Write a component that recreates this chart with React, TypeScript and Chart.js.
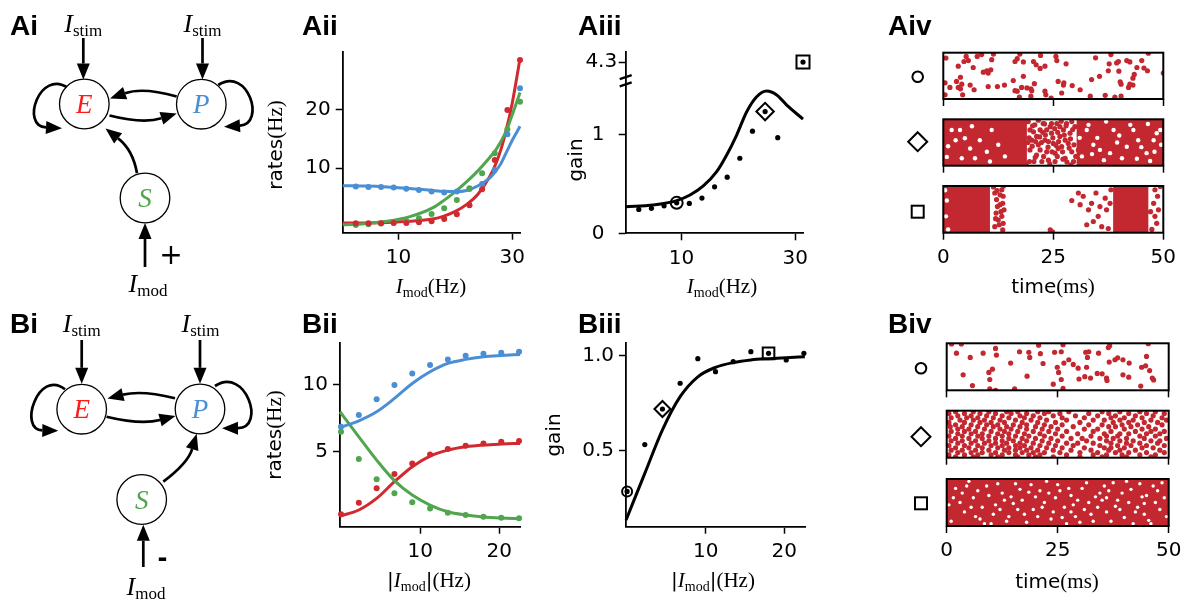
import React, { useEffect, useRef } from 'react';
import { Chart, registerables } from 'chart.js';
Chart.register(...registerables);

// ---------------- colours / fonts ----------------
const RED = '#d1292f';
const BLUE = '#4a8fd3';
const GREEN = '#4fa64e';
const RASTER = '#c3272f';
const SANS = '"DejaVu Sans"';
const SERIF = '"Liberation Serif", "DejaVu Serif", serif';
const BOLD = '"Liberation Sans", Arial, sans-serif';
const TICK_FONT = 20;

// ---------------- data: row A (positive modulation) ----------------
const IMOD_A = [2.5, 4.72, 6.94, 9.16, 11.38, 13.6, 15.82, 18.04, 20.26, 22.48, 24.7, 26.92, 29.14, 31.36];
const RATE_E_A = [0.57, 0.57, 0.57, 0.63, 0.63, 0.74, 0.91, 1.31, 2.11, 3.66, 6.4, 11.43, 20.0, 28.57];
const RATE_P_A = [6.86, 6.8, 6.8, 6.69, 6.51, 6.29, 6.0, 5.83, 6.0, 6.46, 7.31, 9.71, 15.83, 23.71];
const RATE_S_A = [0.29, 0.4, 0.51, 0.69, 0.97, 1.43, 2.17, 3.14, 4.57, 6.57, 9.14, 12.57, 16.69, 21.43];
const IMOD_A_FIT = [0.2, 4, 8, 12, 16, 18, 20, 22, 24, 26, 27, 28, 29, 30, 31.36];
const FIT_E_A = [0.6, 0.62, 0.7, 0.9, 1.3, 1.8, 2.6, 3.8, 5.6, 8.5, 10.5, 13.2, 16.8, 21.2, 28.8];
const FIT_P_A = [7.0, 6.95, 6.8, 6.55, 6.2, 6.05, 6.0, 6.2, 7.0, 8.3, 9.4, 10.8, 12.8, 14.8, 17.2];
const FIT_S_A = [0.3, 0.5, 0.9, 1.7, 3.2, 4.5, 6.0, 7.7, 9.6, 11.8, 13.0, 14.6, 16.5, 19.2, 23.0];

const GAIN_A = [0.242, 0.253, 0.279, 0.309, 0.303, 0.357, 0.471, 0.569, 0.761, 1.036, 1.235, 0.97, null, 4.3];
const IMOD_A_GFIT = [0.2, 5.05, 9.16, 11.5, 13.84, 16.19, 17.95, 19.7, 21.47, 23.22, 24.98, 26.74, 28.5, 31.36];
const GFIT_A = [0.27, 0.287, 0.331, 0.388, 0.48, 0.625, 0.794, 0.997, 1.233, 1.385, 1.443, 1.403, 1.3, 1.159];
const MARK_A = { circle: 3, diamond: 10, square: 13 };
const GAIN_A_TICKS = [0, 1, 4.3];
const BREAK_AT = 1.737; // axis position used for the value 4.3 above the break
const BREAK_MARKS = [1.51, 1.585];

// ---------------- data: row B (negative modulation) ----------------
const IMOD_B = [0, 2.25, 4.5, 6.75, 9, 11.25, 13.5, 15.75, 18, 20.25, 22.5];
const RATE_E_B = [0.35, 1.21, 2.28, 3.34, 4.13, 4.8, 5.2, 5.45, 5.62, 5.74, 5.79];
const RATE_P_B = [6.85, 7.72, 8.89, 9.95, 10.82, 11.44, 11.86, 12.13, 12.28, 12.35, 12.43];
const RATE_S_B = [6.49, 4.46, 2.95, 1.91, 1.24, 0.79, 0.47, 0.3, 0.17, 0.1, 0.05];
const IMOD_B_FIT = [-0.13, 2.25, 4.5, 6.75, 9, 11.25, 13.5, 15.75, 18, 20.25, 22.62];
const FIT_E_B = [0.22, 0.67, 1.53, 2.77, 3.89, 4.68, 5.12, 5.37, 5.5, 5.57, 5.62];
const FIT_P_B = [6.8, 7.3, 7.97, 8.96, 10.07, 10.94, 11.56, 11.86, 12.05, 12.15, 12.23];
const FIT_S_B = [7.97, 6.11, 4.38, 2.85, 1.78, 1.04, 0.54, 0.3, 0.15, 0.07, 0.02];

const GAIN_B = [0.285, 0.532, 0.72, 0.856, 0.986, 0.917, 0.97, 1.023, 1.014, 0.979, 1.014];
const GFIT_B = [0.134, 0.38, 0.61, 0.785, 0.89, 0.94, 0.965, 0.979, 0.986, 0.991, 0.996];
const MARK_B = { circle: 0, diamond: 2, square: 8 };

// ---------------- raster data: [time ms, neuron %] pairs ----------------
const AIV_CIRCLE = [
  0.6, 88.6, 5.2, 92, 4.7, 81, 5.7, 83, 7.7, 92, 8.7, 96, 11.4, 97, 11.0, 85, 17.4, 97, 16.8, 87, 16.3, 81, 18.2, 80,
  22.1, 94, 20.5, 81, 21.1, 74, 22.0, 66, 23.1, 71, 25.6, 92, 25.8, 83, 27.9, 76, 34.6, 89, 38.1, 96, 39.4, 78, 37.7, 76,
  39.8, 81, 41.7, 83, 42.4, 80, 45.1, 83, 46.6, 99, 44.0, 68, 45.6, 67, 46.4, 61, 3.4, 71, 6.8, 68, 9.1, 58, 10.2, 56,
  10.8, 63, 9.9, 61, 18.2, 49, 43.4, 53, 43.1, 45, 37.5, 61, 39.9, 60, 0.4, 35, 3.0, 38, 3.9, 47, 4.2, 32, 3.4, 25,
  3.9, 22, 6.1, 30, 7.0, 20, 10.2, 27, 12.3, 27, 13.9, 30, 15.9, 40, 16.3, 18, 16.8, 17, 17.8, 25, 19.0, 24, 19.9, 22,
  20.7, 33, 20.1, 18, 26.1, 38, 27.4, 35, 27.3, 30, 29.3, 29, 31.1, 20, 33.7, 42, 35.5, 49, 40.2, 37, 40.4, 32, 42.4, 32,
  43.1, 30, 42.1, 25, 50, 56, 0.4, 9, 4.4, 9, 17.3, 4, 19.9, 6, 23.1, 17, 23.3, 9, 26.9, 13, 33.4, 6, 36.8, 8, 39.0, 4,
  40.4, 6, 24.5, 2, 1.5, 25,
];
const AIV_DIAMOND = [
  19.3, 95, 19.7, 77, 20.1, 55, 19.7, 34, 19.6, 9, 20.8, 88, 21.2, 63, 21.6, 45, 21.2, 23, 22.0, 77, 22.7, 91, 23.1, 55,
  23.5, 30, 23.9, 12, 24.3, 84, 24.6, 70, 25.0, 48, 25.4, 27, 25.8, 91, 26.5, 63, 26.9, 41, 27.3, 77, 27.7, 16, 28.0, 91,
  28.4, 48, 28.8, 70, 29.2, 30, 29.6, 9, 29.9, 84, 30.7, 34, 22.4, 9, 20.5, 73, 25.4, 9, 26.5, 84, 23.5, 77, 24.6, 91,
  27.7, 55, 29.2, 95, 22.0, 34, 20.6, 9, 26.1, 37, 23.9, 52,
  19.5, 60, 20.2, 42, 20.9, 18, 21.6, 98, 22.3, 50, 22.8, 20, 23.2, 66, 23.8, 40, 24.2, 4, 24.9, 60, 25.3, 80, 25.9, 20,
  26.2, 52, 26.8, 96, 27.1, 30, 27.5, 66, 28.1, 8, 28.6, 38, 28.9, 58, 29.4, 78, 29.7, 45, 30.1, 20, 18.8, 3, 19.2, 50,
  21.9, 62, 23.0, 90, 24.7, 30, 26.0, 72, 27.9, 86, 29.0, 2, 20.3, 86, 21.0, 52, 22.6, 72, 25.6, 44, 27.2, 14,
];
const AIV_DIAMOND_BLOCKS = [[0, 19, 0, 100], [30.3, 50, 0, 100]];
const AIV_DIAMOND_GAPS = [
  1.1, 42, 0.8, 19, 1.9, 77, 3.8, 77, 4.9, 59, 6.1, 37, 7.2, 16, 8.3, 55, 9.9, 30, 10.6, 9, 4.2, 16, 11.0, 77,
  32.6, 77, 34.1, 45, 35.6, 34, 38.7, 77, 40.6, 16, 43.2, 77, 44.3, 55, 46.2, 27, 47.8, 55, 49.3, 77, 37.9, 27, 41.7, 41,
  31.5, 20, 33.0, 88, 35.0, 60, 36.5, 12, 39.5, 50, 42.5, 88, 45.0, 40, 47.0, 10, 48.5, 70, 37.0, 95, 44.0, 15, 49.5, 45,
  2.8, 55, 6.5, 85, 12.5, 45, 14.0, 20, 31.0, 60, 33.8, 25, 40.0, 65, 46.5, 90, 48.0, 30,
];
const AIV_SQUARE = [
  11.4, 98, 11.7, 85, 12.1, 71, 12.3, 56, 12.0, 42, 12.5, 27, 11.7, 13, 13.3, 92, 13.6, 78, 13.5, 63, 13.8, 49, 13.3, 35,
  13.6, 20, 13.5, 6, 12.9, 81, 12.7, 17, 24.3, 6, 24.8, 2, 29.2, 69, 30.7, 85, 31.1, 60, 31.8, 78, 33.0, 49, 33.7, 63,
  34.7, 85, 35.2, 35, 36.0, 13, 36.8, 74, 37.1, 49, 37.9, 63, 38.1, 92, 35.6, 56, 34.1, 24, 37.5, 9, 32.6, 17,
  48.1, 92, 48.7, 78, 47.8, 63, 48.9, 49, 48.1, 35, 48.5, 20, 47.4, 7, 49.3, 99, 47.1, 45,
  12.9, 60, 13.1, 45, 11.9, 30, 12.2, 90, 13.7, 100,
];
const AIV_SQUARE_BLOCKS = [[0, 10.6, 0, 100], [38.6, 46.6, 0, 100]];
const AIV_SQUARE_GAPS = [0.4, 91, 0.8, 69, 0.6, 35, 1.1, 7];

const BIV_CIRCLE = [
  1.1, 98.6, 3.3, 98.6, 2.2, 79, 5.3, 70, 8.2, 79, 11.0, 89, 11.2, 75, 14.4, 58, 16.4, 82, 18.5, 81, 18.7, 70, 20.7, 96,
  21.1, 78, 21.7, 57, 24.3, 81, 25.8, 82, 26.2, 97, 27.5, 65, 26.4, 58, 28.5, 55, 24.9, 49, 25.2, 38, 29.6, 47, 31.5, 49,
  31.3, 81, 32.0, 82, 31.7, 70, 34.2, 79, 36.4, 91, 36.7, 95, 36.6, 60, 37.9, 65, 38.5, 69, 39.7, 65, 41.1, 58, 43.9, 49,
  44.8, 52, 45.0, 72, 45.4, 99, 45.7, 42, 46.3, 26, 46.6, 22, 3.7, 33, 5.8, 10, 9.5, 38, 10.3, 45, 9.7, 23, 9.7, 3,
  11.0, 0, 15.3, 3, 18.1, 30, 24.0, 13, 25.8, 23, 26.2, 4, 29.8, 24, 31.1, 29, 32.4, 26, 33.9, 36, 35.0, 35, 36.0, 26,
  36.1, 21, 39.7, 33, 41.0, 28, 43.7, 9,
];
const BIV_DIAMOND_ROWS: [number, number[]][] = [
  [98, [2, 6, 9.5, 13.5, 16, 20.5, 23, 27.5, 35, 39, 43.5, 47]],
  [94, [0.5, 4, 7.5, 11, 14.5, 18, 22, 25.5, 32, 36.5, 41, 45, 49]],
  [89, [2.5, 5.5, 9, 12.5, 16.5, 19.5, 24, 29, 34, 38, 42.5, 46.5]],
  [85, [1, 4.5, 7, 10.5, 14, 17.5, 21, 26, 31, 37, 40, 44, 48.5]],
  [80, [3, 6, 8.5, 12, 15.5, 19, 22.5, 27, 33, 35.5, 39, 42, 46, 49.5]],
  [75, [0.5, 4, 7.5, 10, 13, 17, 20.5, 24.5, 30, 37.5, 41, 44.5, 47.5]],
  [70, [2, 5.5, 9, 11.5, 15, 18, 22, 26, 32, 35, 39.5, 43, 48.5]],
  [66, [0.8, 3.5, 7, 10.5, 13.5, 16.5, 20, 23.5, 28.5, 36.5, 38, 41.5, 45.5]],
  [61, [2.5, 5, 8.5, 12, 14.5, 18, 21.5, 25, 31, 34, 40, 44, 47]],
  [56, [1, 4, 6.5, 10, 13, 16, 19.5, 23, 27, 33, 37, 42.5, 46, 49]],
  [51, [2.5, 5.5, 8, 11.5, 14, 17.5, 21, 24.5, 29.5, 35.5, 39, 41, 45, 48]],
  [46, [0.5, 3.5, 7, 9.5, 12.5, 15.5, 18.5, 22, 26, 32.5, 36, 38.5, 43.5, 47]],
  [41, [2, 5, 8, 11, 14, 17, 20, 23.5, 28, 30.5, 34.5, 37.5, 40.5, 44.5, 49.5]],
  [36, [1, 3.5, 6.5, 9.5, 12.5, 15, 18, 21.5, 25, 31.5, 36, 39, 42, 46, 48]],
  [31, [2.5, 5.5, 8.5, 11, 13.5, 16.5, 19.5, 23, 27, 29.5, 33, 37, 40.5, 43.5, 47.5]],
  [26, [0.5, 4, 7, 10, 12.5, 15.5, 17.5, 21, 24.5, 28.5, 34.5, 38.5, 41.5, 45, 49]],
  [21, [2, 5, 8, 11.5, 14, 16.5, 19, 22.5, 26, 31, 35.5, 37, 40, 44, 46.5]],
  [16, [1, 3.5, 6.5, 9.5, 13, 15.5, 18, 20.5, 24, 28, 32.5, 36.5, 39, 42.5, 48]],
  [11, [2.5, 5.5, 8, 11, 14, 17, 19.5, 22, 25.5, 30, 34, 38, 41, 45, 49]],
  [6, [0.5, 4, 7, 10, 12.5, 15.5, 18.5, 21, 27, 33, 36, 39.5, 43.5, 47]],
  [2, [2, 6, 11.5, 16, 20, 24, 30, 35, 40.5, 46]],
];
const BIV_SQUARE_BLOCKS = [[0, 50, 0, 100]];
const BIV_SQUARE_GAPS = [
  2, 80, 4, 30, 6, 60, 7.5, 15, 9, 85, 11, 45, 12.5, 70, 14, 20, 15.5, 90, 17, 55, 18, 8, 19.5, 35, 21, 75, 22, 50,
  23.5, 15, 25, 88, 26.5, 40, 28, 65, 29, 20, 30.5, 80, 32, 50, 33, 10, 34.5, 70, 36, 30, 37.5, 92, 38.5, 55, 40, 18,
  41.5, 78, 43, 40, 44, 62, 45.5, 12, 46.5, 85, 48, 35, 49, 60, 1, 10, 3, 50, 5, 95, 8, 40, 10, 5, 13, 55, 16, 35,
  20, 62, 24, 30, 27, 5, 31, 35, 35, 55, 39, 35, 42, 5, 47, 50, 3.5, 70, 10.5, 25, 18.5, 72, 28.5, 45, 36.5, 75, 44.5, 25,
  1.5, 60, 4.5, 85, 6.5, 20, 9.5, 65, 11.5, 90, 13.5, 10, 15, 48, 16.5, 78, 19, 88, 20.5, 20, 22.5, 95, 24.5, 60,
  26, 18, 27.5, 80, 29.5, 55, 31.5, 92, 32.5, 25, 34, 40, 35.5, 85, 37, 10, 39.5, 70, 41, 50, 42.5, 30, 43.5, 90,
  45, 65, 46, 5, 47.5, 75, 49.5, 20, 0.5, 45, 5.5, 40, 8.5, 5, 12, 35, 17.5, 25, 21.5, 40, 25.5, 75, 30, 8, 33.5, 62,
  38, 42, 40.5, 95, 44.5, 48, 48.5, 92, 7, 75, 14.5, 62, 23, 70, 28, 30, 36, 60,
];
const RASTER_TICKS = [0, 25, 50];

// ---------------- helpers ----------------
const pairs = (xs: number[], ys: (number | null)[]) => xs.map((x, i) => ({ x, y: ys[i] }));
const flat = (a: number[]) => { const o: any[] = []; for (let i = 0; i < a.length; i += 2) o.push({ x: a[i], y: a[i + 1] }); return o; };
const rows = (r: [number, number[]][]) => r.flatMap(([y, ts]) => ts.map((t) => ({ x: t, y })));
const gdisp = (v: number | null) => (v == null ? null : v > 2 ? BREAK_AT + (v - 4.3) * 0.05 : v);

const lineDs = (xs: number[], ys: number[], color: string) => ({
  data: pairs(xs, ys), showLine: true, borderColor: color, borderWidth: 3, pointRadius: 0,
  cubicInterpolationMode: 'monotone', clip: false, order: 2,
});
const dotDs = (xs: number[], ys: any[], color: string, r = 3) => ({
  data: pairs(xs, ys), showLine: false, pointRadius: r, backgroundColor: color, borderWidth: 0, clip: false, order: 1,
});
const markDs = (pt: any, style: string, r: number) => ({
  data: [pt], pointStyle: style, pointRadius: r, backgroundColor: 'rgba(0,0,0,0)', borderColor: '#000',
  borderWidth: 2, clip: false, order: 0,
});

function xAxis(min: number, max: number, ticks: number[], xH: number, labels = true, border = true) {
  return {
    type: 'linear', min, max, bounds: 'data',
    afterBuildTicks: (s: any) => { s.ticks = ticks.map((v) => ({ value: v })); },
    afterFit: (s: any) => { s.height = xH; s.paddingLeft = 0; s.paddingRight = 0; },
    border: { display: border, color: '#000', width: 1.8 },
    grid: { drawOnChartArea: false, drawTicks: true, tickLength: 7, tickWidth: 1.5, tickColor: '#000' },
    ticks: { display: labels, color: '#000', font: { family: SANS, size: TICK_FONT }, padding: 6, maxRotation: 0, autoSkip: false,
      callback: (v: number) => String(v) },
  };
}
function yAxis(min: number, max: number, ticks: number[], yW: number, fmt?: (v: number) => string, pad = 5) {
  return {
    type: 'linear', min, max, bounds: 'data',
    afterBuildTicks: (s: any) => { s.ticks = ticks.map((v) => ({ value: v })); },
    afterFit: (s: any) => { s.width = yW; s.paddingTop = 0; s.paddingBottom = 0; },
    border: { display: true, color: '#000', width: 1.8 },
    grid: { drawOnChartArea: false, drawTicks: true, tickLength: 7, tickWidth: 1.5, tickColor: '#000' },
    ticks: { color: '#000', font: { family: SANS, size: TICK_FONT }, padding: pad, autoSkip: false,
      callback: (v: number) => (fmt ? fmt(v) : String(v)) },
  };
}

type Area = { l: number; t: number; r: number; b: number };
const PAD_L = 24, PAD_T = 16, PAD_R = 28, PAD_B = 4;

function ChartCanvas({ area, yW, xH, make }: { area: Area; yW: number; xH: number; make: () => any }) {
  const ref = useRef<HTMLCanvasElement | null>(null);
  const left = Math.floor(area.l - yW - PAD_L);
  const top = Math.floor(area.t - PAD_T);
  const right = Math.ceil(area.r + PAD_R);
  const bottom = Math.ceil(area.b + xH + PAD_B);
  const w = right - left;
  const h = bottom - top;
  useEffect(() => {
    const cfg = make();
    cfg.options = cfg.options || {};
    cfg.options.responsive = false;
    cfg.options.maintainAspectRatio = false;
    cfg.options.animation = false;
    cfg.options.devicePixelRatio = 1;
    cfg.options.events = [];
    cfg.options.layout = {
      autoPadding: false,
      padding: { left: area.l - yW - left, top: area.t - top, right: right - area.r, bottom: bottom - area.b - xH },
    };
    cfg.options.plugins = { legend: { display: false }, tooltip: { enabled: false }, title: { display: false } };
    const chart = new Chart(ref.current as HTMLCanvasElement, cfg);
    return () => chart.destroy();
  }, []);
  return <canvas ref={ref} width={w} height={h} style={{ position: 'absolute', left, top, width: w, height: h }} />;
}

// ---------------- chart configurations ----------------
const makeRatesA = () => ({
  type: 'scatter',
  data: { datasets: [
    dotDs(IMOD_A, RATE_E_A, RED), dotDs(IMOD_A, RATE_S_A, GREEN), dotDs(IMOD_A, RATE_P_A, BLUE),
    lineDs(IMOD_A_FIT, FIT_P_A, BLUE), lineDs(IMOD_A_FIT, FIT_S_A, GREEN), lineDs(IMOD_A_FIT, FIT_E_A, RED),
  ] },
  options: { scales: { x: xAxis(0.2, 31.36, [10, 30], 40), y: yAxis(-1.05, 30, [10, 20], 50) } },
});

const makeRatesB = () => ({
  type: 'scatter',
  data: { datasets: [
    dotDs(IMOD_B, RATE_E_B, RED), dotDs(IMOD_B, RATE_S_B, GREEN), dotDs(IMOD_B, RATE_P_B, BLUE),
    lineDs(IMOD_B_FIT, FIT_P_B, BLUE), lineDs(IMOD_B_FIT, FIT_S_B, GREEN), lineDs(IMOD_B_FIT, FIT_E_B, RED),
  ] },
  options: { scales: { x: xAxis(-0.13, 22.62, [10, 20], 40), y: yAxis(-0.57, 13.1, [5, 10], 50) } },
});

const breakPlugin = {
  id: 'axisBreak',
  afterDraw(chart: any) {
    const { ctx, scales, chartArea } = chart;
    ctx.save();
    ctx.strokeStyle = '#000';
    ctx.lineWidth = 2.4;
    for (const v of BREAK_MARKS) {
      const py = scales.y.getPixelForValue(v);
      ctx.beginPath();
      ctx.moveTo(chartArea.left - 6, py + 2);
      ctx.lineTo(chartArea.left + 6, py - 2);
      ctx.stroke();
    }
    ctx.restore();
  },
};

const makeGainA = () => ({
  type: 'scatter',
  data: { datasets: [
    markDs({ x: IMOD_A[MARK_A.circle], y: gdisp(GAIN_A[MARK_A.circle]) }, 'circle', 6),
    markDs({ x: IMOD_A[MARK_A.diamond], y: gdisp(GAIN_A[MARK_A.diamond]) }, 'rectRot', 8.7),
    markDs({ x: IMOD_A[MARK_A.square], y: gdisp(GAIN_A[MARK_A.square]) }, 'rect', 9.2),
    dotDs(IMOD_A, GAIN_A.map(gdisp), '#000', 2.6),
    lineDs(IMOD_A_GFIT, GFIT_A, '#000'),
  ] },
  options: { scales: {
    x: xAxis(0.2, 31.36, [10, 30], 40),
    y: yAxis(0, 1.842, GAIN_A_TICKS.map((v) => gdisp(v) as number), 50,
      (v) => (v === 0 ? '0  ' : v === 1 ? '1  ' : String(GAIN_A_TICKS[2])), 1.5),
  } },
  plugins: [breakPlugin],
});

const makeGainB = () => ({
  type: 'scatter',
  data: { datasets: [
    markDs({ x: IMOD_B[MARK_B.circle], y: GAIN_B[MARK_B.circle] }, 'circle', 5),
    markDs({ x: IMOD_B[MARK_B.diamond], y: GAIN_B[MARK_B.diamond] }, 'rectRot', 8),
    markDs({ x: IMOD_B[MARK_B.square], y: GAIN_B[MARK_B.square] }, 'rect', 8.2),
    dotDs(IMOD_B, GAIN_B, '#000', 2.6),
    lineDs(IMOD_B_FIT, GFIT_B, '#000'),
  ] },
  options: { scales: { x: xAxis(-0.14, 22.64, [10, 20], 40), y: yAxis(0.0985, 1.067, [0.5, 1.0], 50, (v) => v.toFixed(1)) } },
});

const rasterPlugin = (blocks: number[][]) => ({
  id: 'rasterBlocks',
  beforeDatasetsDraw(chart: any) {
    const { ctx, chartArea: a, scales } = chart;
    ctx.save();
    ctx.beginPath();
    ctx.rect(a.left, a.top, a.right - a.left, a.bottom - a.top);
    ctx.clip();
    ctx.fillStyle = RASTER;
    for (const [t0, t1, y0, y1] of blocks) {
      const x0 = scales.x.getPixelForValue(t0);
      const x1 = scales.x.getPixelForValue(t1);
      const yTop = scales.y.getPixelForValue(y1);
      const yBot = scales.y.getPixelForValue(y0);
      ctx.fillRect(x0, yTop, x1 - x0, yBot - yTop);
    }
    ctx.restore();
  },
  afterDatasetsDraw(chart: any) {
    const { ctx, chartArea: a } = chart;
    ctx.save();
    ctx.strokeStyle = '#000';
    ctx.lineWidth = 2;
    ctx.strokeRect(a.left, a.top, a.right - a.left, a.bottom - a.top);
    ctx.restore();
  },
});

const makeRaster = (dots: any[], gaps: any[], blocks: number[][], labels: boolean, xH: number, gapR = 2.2) => () => ({
  type: 'scatter',
  data: { datasets: [
    { data: dots, pointRadius: 2.6, backgroundColor: RASTER, borderWidth: 0, clip: 0, order: 1 },
    { data: gaps, pointRadius: gapR, backgroundColor: '#fff', borderWidth: 0, clip: 0, order: 2 },
  ] },
  options: { scales: {
    x: xAxis(0, 50, RASTER_TICKS, xH, labels, false),
    y: { type: 'linear', min: 0, max: 100, display: false },
  } },
  plugins: [rasterPlugin(blocks)],
});

// ---------------- diagrams ----------------
function Arrow({ a }: { a: any }) {
  const L = 16, W = 6.5;
  const [tx, ty] = a.tip;
  const ref = a.c2 || a.c || a.from;
  let dx = tx - ref[0], dy = ty - ref[1];
  const n = Math.hypot(dx, dy);
  dx /= n; dy /= n;
  const bx = tx - dx * L, by = ty - dy * L;
  let d: string;
  if (a.c2) d = `M${a.from[0]},${a.from[1]} C${a.c[0]},${a.c[1]} ${a.c2[0]},${a.c2[1]} ${bx},${by}`;
  else if (a.c) d = `M${a.from[0]},${a.from[1]} Q${a.c[0]},${a.c[1]} ${bx},${by}`;
  else d = `M${a.from[0]},${a.from[1]} L${bx},${by}`;
  const pts = `${tx},${ty} ${bx - dy * W},${by + dx * W} ${bx + dy * W},${by - dx * W}`;
  return (
    <g>
      <path d={d} fill="none" stroke="#000" strokeWidth={2.7} />
      <polygon points={pts} fill="#000" />
    </g>
  );
}

const NET_A = {
  nodes: [
    { k: 'E', x: 84.3, y: 104, c: '#ff1a1a' },
    { k: 'P', x: 201.3, y: 104.2, c: BLUE },
    { k: 'S', x: 145, y: 198, c: GREEN },
  ],
  arrows: [
    { from: [83.3, 38], tip: [83.3, 79.5] },
    { from: [202.5, 38], tip: [202.5, 79.5] },
    { from: [176.7, 96.5], c: [143, 87], tip: [110, 98.5] },
    { from: [109.5, 115.5], c: [143, 124], tip: [176.7, 113.5] },
    { from: [68.3, 88.3], c: [40, 68], c2: [20, 126], tip: [62, 128.3] },
    { from: [218.3, 85], c: [248, 66], c2: [266, 124], tip: [224, 126.7] },
    { from: [137, 173.3], c: [133, 150], tip: [105.5, 128.5] },
    { from: [145, 267], tip: [145, 223] },
  ],
  stim: [[83.3, 31.5], [202.5, 31.5]],
  mod: [148, 291.5],
  sign: { t: '+', x: 171, y: 264, size: 28, w: 'normal' },
};
const NET_B = {
  nodes: [
    { k: 'E', x: 81.7, y: 409.2, c: '#ff1a1a' },
    { k: 'P', x: 200, y: 409, c: BLUE },
    { k: 'S', x: 141.7, y: 499.5, c: GREEN },
  ],
  arrows: [
    { from: [81.7, 340], tip: [81.7, 383.8] },
    { from: [200, 340], tip: [200, 383.8] },
    { from: [175, 398.3], c: [142, 390], tip: [107.5, 398.5] },
    { from: [106.5, 416.7], c: [141, 425], tip: [175.5, 416] },
    { from: [65, 389.3], c: [38, 368], c2: [18, 430], tip: [58.3, 430.7] },
    { from: [215, 386], c: [246, 366], c2: [266, 428], tip: [222, 428.3] },
    { from: [163.3, 481.7], c: [188, 463], tip: [196.7, 433.8] },
    { from: [143.3, 567], tip: [143.3, 524.8] },
  ],
  stim: [[81.7, 332], [200.5, 332]],
  mod: [146, 595],
  sign: { t: '-', x: 162.5, y: 566, size: 24, w: 'bold' },
};

function Network({ net }: { net: any }) {
  return (
    <g>
      {net.arrows.map((a: any, i: number) => <Arrow key={i} a={a} />)}
      {net.nodes.map((n: any) => (
        <g key={n.k}>
          <circle cx={n.x} cy={n.y} r={24.8} fill="#fff" stroke="#000" strokeWidth={1.3} />
          <text x={n.x} y={n.y + 9} textAnchor="middle" fontFamily={SERIF} fontStyle="italic" fontSize={27} fill={n.c}>{n.k}</text>
        </g>
      ))}
      {net.stim.map((p: number[], i: number) => (
        <text key={i} x={p[0]} y={p[1]} textAnchor="middle" fontFamily={SERIF}>
          <tspan fontStyle="italic" fontSize={26}>I</tspan>
          <tspan fontSize={17} dy={4}>stim</tspan>
        </text>
      ))}
      <text x={net.mod[0]} y={net.mod[1]} textAnchor="middle" fontFamily={SERIF}>
        <tspan fontStyle="italic" fontSize={26}>I</tspan>
        <tspan fontSize={17} dy={4}>mod</tspan>
      </text>
      <text x={net.sign.x} y={net.sign.y} textAnchor="middle" fontFamily={SANS} fontSize={net.sign.size} fontWeight={net.sign.w}>{net.sign.t}</text>
    </g>
  );
}

function ImodLabel({ x, y, abs = false }: { x: number; y: number; abs?: boolean }) {
  return (
    <text x={x} y={y} textAnchor="middle">
      {abs ? <tspan fontFamily={SANS} fontSize={20}>|</tspan> : null}
      <tspan fontFamily={SERIF} fontStyle="italic" fontSize={21}>I</tspan>
      <tspan fontFamily={SERIF} fontSize={14} dy={4}>mod</tspan>
      {abs ? <tspan fontFamily={SANS} fontSize={20} dy={-4}>|</tspan> : null}
      <tspan fontFamily={SERIF} fontSize={21} dy={abs ? 0 : -4}>(Hz)</tspan>
    </text>
  );
}
function TimeLabel({ x, y }: { x: number; y: number }) {
  return (
    <text x={x} y={y} textAnchor="middle">
      <tspan fontFamily={SANS} fontSize={20}>time</tspan>
      <tspan fontFamily={SERIF} fontSize={21}>(ms)</tspan>
    </text>
  );
}
function VLabel({ x, y, main, unit }: { x: number; y: number; main: string; unit?: string }) {
  return (
    <text transform={`translate(${x},${y}) rotate(-90)`} textAnchor="middle">
      <tspan fontFamily={SANS} fontSize={20}>{main}</tspan>
      {unit ? <tspan fontFamily={SERIF} fontSize={21}>{unit}</tspan> : null}
    </text>
  );
}

function RasterMarkers({ x, ys }: { x: number; ys: number[] }) {
  return (
    <g fill="none" stroke="#000" strokeWidth={2}>
      <circle cx={x} cy={ys[0]} r={5.3} />
      <polygon points={`${x},${ys[1] - 9.5} ${x + 9.5},${ys[1]} ${x},${ys[1] + 9.5} ${x - 9.5},${ys[1]}`} />
      <rect x={x - 6} y={ys[2] - 6} width={12} height={12} />
    </g>
  );
}

const PANEL_LABELS = [
  ['Ai', 10, 35], ['Aii', 302, 35], ['Aiii', 578, 35], ['Aiv', 888, 35],
  ['Bi', 10, 333], ['Bii', 302, 333], ['Biii', 578, 333], ['Biv', 888, 333],
];

const AIV_X = { l: 943.3, r: 1163.3 };
const BIV_X = { l: 946.7, r: 1168.7 };

export default function App() {
  return (
    <div style={{ position: 'absolute', left: 0, top: 0, width: 1189, height: 600, overflow: 'hidden', background: '#fff' }}>
      <ChartCanvas area={{ l: 342.7, t: 51.7, r: 520, b: 232.7 }} yW={50} xH={40} make={makeRatesA} />
      <ChartCanvas area={{ l: 625.7, t: 51.7, r: 803, b: 233.3 }} yW={50} xH={40} make={makeGainA} />
      <ChartCanvas area={{ l: 340, t: 342.7, r: 520, b: 526.7 }} yW={50} xH={40} make={makeRatesB} />
      <ChartCanvas area={{ l: 626, t: 343.3, r: 805, b: 526.7 }} yW={50} xH={40} make={makeGainB} />

      <ChartCanvas area={{ ...AIV_X, t: 52.7, b: 99 }} yW={0} xH={9} make={makeRaster(flat(AIV_CIRCLE), [], [], false, 9)} />
      <ChartCanvas area={{ ...AIV_X, t: 119.3, b: 165.7 }} yW={0} xH={9} make={makeRaster(flat(AIV_DIAMOND), flat(AIV_DIAMOND_GAPS), AIV_DIAMOND_BLOCKS, false, 9)} />
      <ChartCanvas area={{ ...AIV_X, t: 186, b: 232.7 }} yW={0} xH={40} make={makeRaster(flat(AIV_SQUARE), flat(AIV_SQUARE_GAPS), AIV_SQUARE_BLOCKS, true, 40)} />

      <ChartCanvas area={{ ...BIV_X, t: 343.3, b: 390.3 }} yW={0} xH={9} make={makeRaster(flat(BIV_CIRCLE), [], [], false, 9)} />
      <ChartCanvas area={{ ...BIV_X, t: 410.7, b: 457.7 }} yW={0} xH={9} make={makeRaster(rows(BIV_DIAMOND_ROWS), [], [], false, 9)} />
      <ChartCanvas area={{ ...BIV_X, t: 479, b: 526 }} yW={0} xH={40} make={makeRaster([], flat(BIV_SQUARE_GAPS), BIV_SQUARE_BLOCKS, true, 40, 1.7)} />

      <svg width={1189} height={600} style={{ position: 'absolute', left: 0, top: 0, pointerEvents: 'none' }}>
        {PANEL_LABELS.map(([t, x, y]) => (
          <text key={t as string} x={x as number} y={y as number} fontFamily={BOLD} fontWeight="bold" fontSize={28}>{t}</text>
        ))}
        <Network net={NET_A} />
        <Network net={NET_B} />
        <VLabel x={282} y={145} main="rates" unit="(Hz)" />
        <VLabel x={281} y={435} main="rates" unit="(Hz)" />
        <VLabel x={582} y={160} main="gain" />
        <VLabel x={560} y={435} main="gain" />
        <ImodLabel x={431} y={292.5} />
        <ImodLabel x={722} y={292.5} />
        <ImodLabel x={429} y={587} abs />
        <ImodLabel x={713} y={587} abs />
        <TimeLabel x={1053} y={292.5} />
        <TimeLabel x={1057} y={588} />
        <RasterMarkers x={917.7} ys={[76.7, 141.7, 211.7]} />
        <RasterMarkers x={921} ys={[368.3, 436.7, 503.3]} />
      </svg>
    </div>
  );
}
